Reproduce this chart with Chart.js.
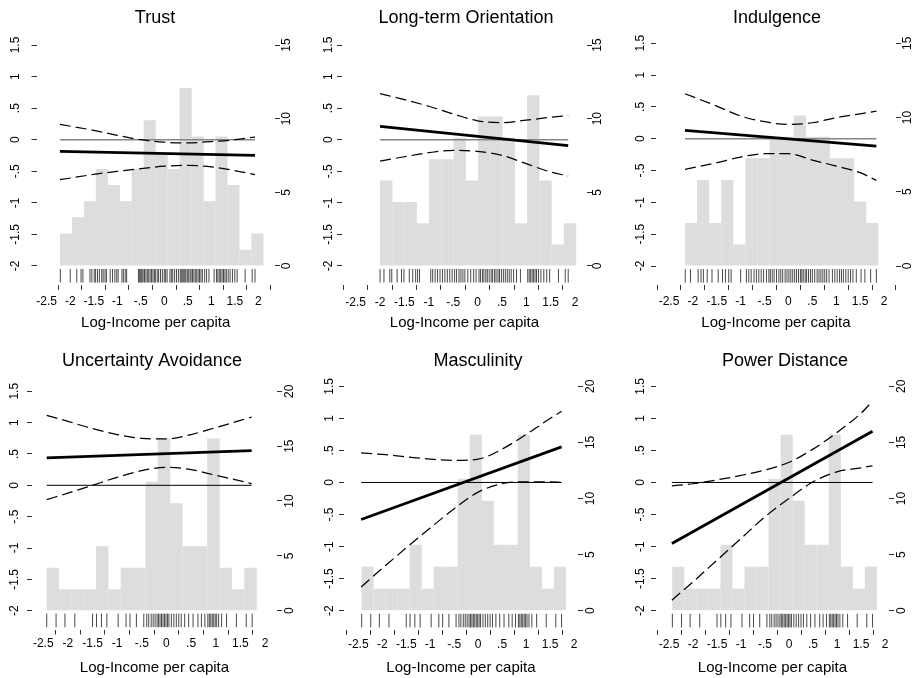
<!DOCTYPE html>
<html>
<head>
<meta charset="utf-8">
<script src="https://cdn.jsdelivr.net/npm/chart.js@4.4.0/dist/chart.umd.min.js"></script>
<style>
html, body { margin: 0; padding: 0; background: #fff; overflow: hidden; }
#figura { position: relative; width: 919px; height: 678px; overflow: hidden; background: #fff; }
#figura canvas { position: absolute; }
</style>
</head>
<body>
<div id="figura"></div>
<script>
// ---------- dados ----------
var titles = ['Trust', 'Long-term Orientation', 'Indulgence', 'Uncertainty Avoidance', 'Masculinity', 'Power Distance'];
var xTitle = 'Log-Income per capita';

var xTicks = [-2.5, -2, -1.5, -1, -0.5, 0, 0.5, 1, 1.5, 2];
var yTicks = [-2, -1.5, -1, -0.5, 0, 0.5, 1, 1.5];
var countTicksTop = [0, 5, 10, 15];
var countTicksBottom = [0, 5, 10, 15, 20];

// Trust
var trustBins = [-2.090, -1.835, -1.581, -1.327, -1.072, -0.818, -0.563, -0.309, -0.055, 0.200, 0.454, 0.709, 0.963, 1.217, 1.472, 1.726, 1.981];
var trustPct = [2.20, 3.30, 4.40, 6.59, 5.49, 4.40, 6.59, 9.89, 7.69, 6.59, 12.09, 8.79, 4.40, 8.79, 5.49, 1.10, 2.20];
var trustRug = [-2.21, -2.00, -1.86, -1.77, -1.73, -1.58, -1.54, -1.49, -1.46, -1.42, -1.38, -1.33, -1.30, -1.26, -1.23,
  -1.15, -1.10, -1.05, -1.01, -0.98, -0.90, -0.87, -0.83, -0.80, -0.55, -0.53, -0.51, -0.49, -0.47, -0.45,
  -0.42, -0.39, -0.36, -0.33, -0.30, -0.27, -0.24, -0.21, -0.19, -0.15, -0.12, -0.08, -0.04, 0.00, 0.03, 0.06,
  0.12, 0.15, 0.18, 0.22, 0.26, 0.30, 0.34, 0.36, 0.38, 0.40, 0.42, 0.44, 0.46, 0.49, 0.52, 0.55, 0.57,
  0.60, 0.63, 0.66, 0.69, 0.72, 0.75, 0.78, 0.81, 0.86, 0.90, 0.95, 1.06, 1.11, 1.14, 1.17, 1.20, 1.23, 1.26, 1.29, 1.32,
  1.36, 1.40, 1.45, 1.50, 1.55, 1.72, 1.87, 1.93];
var trustFitX = [-2.22, 1.93];
var trustFitY = [-0.185, -0.248];
var trustCiX = [-2.22, -1.5, -1.0, -0.5, 0, 0.5, 1.0, 1.5, 1.93];
var trustCiUp = [0.243, 0.148, 0.069, 0.0, -0.04, -0.05, -0.03, 0.0, 0.042];
var trustCiLo = [-0.634, -0.55, -0.50, -0.459, -0.42, -0.407, -0.43, -0.49, -0.554];

// Long-term Orientation
var ltoBins = [-1.874, -1.623, -1.372, -1.120, -0.869, -0.617, -0.366, -0.115, 0.137, 0.388, 0.640, 0.891, 1.143, 1.394, 1.645, 1.897];
var ltoPct = [5.80, 4.35, 4.35, 2.90, 7.25, 7.25, 8.70, 5.80, 10.14, 10.14, 8.70, 2.90, 11.59, 5.80, 1.45, 2.90];
var ltoRug = [-2.00, -1.92, -1.80, -1.76, -1.65, -1.56, -1.51, -1.40, -1.33, -1.27, -1.23, -1.19,
  -0.96, -0.92, -0.87, -0.82, -0.77, -0.72, -0.67, -0.62, -0.57, -0.52, -0.47, -0.43, -0.38, -0.34, -0.30, -0.26,
  -0.20, -0.14, -0.08, -0.03, 0.03, 0.06, 0.10, 0.13, 0.17, 0.20, 0.24, 0.28, 0.31, 0.35, 0.38, 0.42, 0.45, 0.49,
  0.53, 0.57, 0.61, 0.65, 0.69, 0.74, 0.80, 0.88, 1.03, 1.06, 1.09, 1.12, 1.15, 1.18, 1.21, 1.25,
  1.30, 1.36, 1.42, 1.48, 1.66, 1.80, 1.86];
var ltoFitX = [-2.0, 1.86];
var ltoFitY = [0.211, -0.095];
var ltoCiX = [-2.0, -1.5, -1.0, -0.5, 0, 0.5, 1.0, 1.5, 1.86];
var ltoCiUp = [0.729, 0.635, 0.53, 0.41, 0.30, 0.27, 0.31, 0.355, 0.385];
var ltoCiLo = [-0.338, -0.27, -0.206, -0.169, -0.185, -0.248, -0.38, -0.512, -0.575];

// Indulgence
var indBins = [-2.038, -1.786, -1.533, -1.280, -1.027, -0.774, -0.521, -0.268, -0.015, 0.238, 0.490, 0.743, 0.996, 1.249, 1.502, 1.755];
var indPct = [2.90, 5.80, 2.90, 5.80, 1.45, 7.25, 7.25, 8.70, 8.70, 10.14, 8.70, 8.70, 7.25, 7.25, 4.35, 2.90];
var indRug = [-2.16, -2.05, -1.89, -1.83, -1.78, -1.70, -1.60, -1.47, -1.38, -1.32, -1.25, -1.20, -1.00,
  -0.88, -0.83, -0.78, -0.72, -0.67, -0.62, -0.57, -0.52, -0.46, -0.41, -0.38, -0.34, -0.30, -0.25, -0.20, -0.16,
  -0.12, -0.07, -0.03, 0.01, 0.05, 0.09, 0.13, 0.17, 0.21, 0.25, 0.28, 0.31, 0.35, 0.38, 0.42, 0.46, 0.50, 0.55, 0.60,
  0.64, 0.68, 0.72, 0.76, 0.80, 0.85, 0.92, 0.97, 1.02, 1.07, 1.11, 1.15, 1.20, 1.25, 1.30, 1.35,
  1.42, 1.52, 1.60, 1.72, 1.84];
var indFitX = [-2.165, 1.84];
var indFitY = [0.131, -0.115];
var indCiX = [-2.165, -1.5, -1.0, -0.5, 0, 0.5, 1.0, 1.5, 1.84];
var indCiUp = [0.707, 0.513, 0.356, 0.267, 0.225, 0.251, 0.33, 0.39, 0.435];
var indCiLo = [-0.482, -0.377, -0.288, -0.236, -0.236, -0.335, -0.43, -0.534, -0.655];

// linha de baixo: mesma amostra nos tres paineis
var bottomBins = [-2.307, -2.056, -1.805, -1.554, -1.303, -1.053, -0.802, -0.551, -0.300, -0.049, 0.201, 0.452, 0.703, 0.954, 1.205, 1.455, 1.706];
var bottomPct = [3.92, 1.96, 1.96, 1.96, 5.88, 1.96, 3.92, 3.92, 11.76, 15.69, 9.80, 5.88, 5.88, 15.69, 3.92, 1.96, 3.92];
var bottomRug = [-2.43, -2.24, -2.06, -1.86, -1.50, -1.42, -1.32, -1.21, -0.98, -0.82, -0.74, -0.61, -0.46,
  -0.40, -0.36, -0.31, -0.27, -0.23, -0.19, -0.16, -0.13, -0.10, -0.07, -0.04, -0.01, 0.02, 0.05,
  0.10, 0.15, 0.20, 0.25, 0.30, 0.37, 0.45, 0.54, 0.64, 0.71, 0.78,
  0.84, 0.87, 0.90, 0.93, 0.96, 0.99, 1.02, 1.06, 1.12, 1.22, 1.42, 1.62, 1.74];

// Uncertainty Avoidance
var uaFitX = [-2.43, 1.73];
var uaFitY = [0.436, 0.553];
var uaCiX = [-2.43, -2.0, -1.5, -1.0, -0.5, 0, 0.5, 1.0, 1.5, 1.73];
var uaCiUp = [1.117, 1.02, 0.904, 0.81, 0.75, 0.74, 0.81, 0.92, 1.035, 1.09];
var uaCiLo = [-0.229, -0.125, 0.0, 0.128, 0.234, 0.287, 0.25, 0.16, 0.07, 0.027];

// Masculinity
var mascFitX = [-2.44, 1.74];
var mascFitY = [-0.577, 0.556];
var mascCiX = [-2.44, -2.0, -1.5, -1.0, -0.5, 0, 0.5, 1.0, 1.5, 1.74];
var mascCiUp = [0.463, 0.437, 0.40, 0.364, 0.343, 0.364, 0.52, 0.749, 0.998, 1.11];
var mascCiLo = [-1.63, -1.34, -1.02, -0.71, -0.41, -0.15, -0.02, 0.01, 0.01, 0.0];

// Power Distance
var pdFitX = [-2.44, 1.74];
var pdFitY = [-0.952, 0.80];
var pdCiX = [-2.44, -2.0, -1.5, -1.0, -0.5, 0, 0.5, 1.0, 1.5, 1.74];
var pdCiUp = [-0.052, -0.02, 0.04, 0.11, 0.195, 0.315, 0.52, 0.78, 1.08, 1.27];
var pdCiLo = [-1.836, -1.55, -1.212, -0.874, -0.536, -0.25, 0.01, 0.166, 0.229, 0.26];

// ---------- aparencia ----------
var FONTE = '"Liberation Sans", Arial, Helvetica, sans-serif';
var Y_MIN = -2.3;
var Y_MAX = 1.6;
var RUG_Y = -2.155;

function formatoR(v) {
	var s = String(Math.round(v * 10) / 10);
	return s.replace(/^0\./, '.').replace(/^-0\./, '-.');
}

function pontos(xs, ys) {
	return xs.map(function(x, i) { return {x: x, y: ys[i]}; });
}

function fixarTicks(valores) {
	return function(scale) {
		scale.ticks = valores.map(function(v) { return {value: v}; });
	};
}

var paineis = [
	{titulo: titles[0], bins: trustBins, pct: trustPct, rug: trustRug, fitX: trustFitX, fitY: trustFitY,
	 ciX: trustCiX, ciUp: trustCiUp, ciLo: trustCiLo, contagem: countTicksTop,
	 caixa: {left: -15, top: 0, width: 340, height: 332}, eixo: {left: 51.5, right: 50, bottom: 47.1},
	 titPad: {top: 7.2, bottom: 9.9}, xMin: -2.717, xMax: 2.355, pad: {left: 5, right: 0.3, bottom: 4.6},
	 zero: {cor: '#858585', largura: 1.6}},
	{titulo: titles[1], bins: ltoBins, pct: ltoPct, rug: ltoRug, fitX: ltoFitX, fitY: ltoFitY,
	 ciX: ltoCiX, ciUp: ltoCiUp, ciLo: ltoCiLo, contagem: countTicksTop,
	 caixa: {left: 296, top: 0, width: 340, height: 332}, eixo: {left: 46, right: 49, bottom: 47.1},
	 titPad: {top: 7.2, bottom: 9.9}, xMin: -2.781, xMax: 2.246, pad: {left: -1.9, right: -1.1, bottom: 5.6},
	 zero: {cor: '#858585', largura: 1.6}},
	{titulo: titles[2], bins: indBins, pct: indPct, rug: indRug, fitX: indFitX, fitY: indFitY,
	 ciX: indCiX, ciUp: indCiUp, ciLo: indCiLo, contagem: countTicksTop,
	 caixa: {left: 607, top: 0, width: 340, height: 332}, eixo: {left: 49, right: 51, bottom: 46.9},
	 titPad: {top: 7.2, bottom: 8.1}, xMin: -2.772, xMax: 2.251, pad: {left: 0, right: -0.2, bottom: 4.4},
	 zero: {cor: '#858585', largura: 1.6}},
	{titulo: titles[3], bins: bottomBins, pct: bottomPct, rug: bottomRug, fitX: uaFitX, fitY: uaFitY,
	 ciX: uaCiX, ciUp: uaCiUp, ciLo: uaCiLo, contagem: countTicksBottom,
	 caixa: {left: -18, top: 339, width: 340, height: 338}, eixo: {left: 50, right: 45, bottom: 47.5},
	 titPad: {top: 11.5, bottom: 12.9}, xMin: -2.729, xMax: 2.244, pad: {left: 1.6, right: 0.6, bottom: 2.3},
	 zero: {cor: '#000', largura: 1}},
	{titulo: titles[4], bins: bottomBins, pct: bottomPct, rug: bottomRug, fitX: mascFitX, fitY: mascFitY,
	 ciX: mascCiX, ciUp: mascCiUp, ciLo: mascCiLo, contagem: countTicksBottom,
	 caixa: {left: 308, top: 339, width: 340, height: 338}, eixo: {left: 36, right: 70, bottom: 47.1},
	 titPad: {top: 11.5, bottom: 7.8}, xMin: -2.798, xMax: 2.083, pad: {left: -1, right: 1, bottom: 2.6},
	 zero: {cor: '#000', largura: 1}},
	{titulo: titles[5], bins: bottomBins, pct: bottomPct, rug: bottomRug, fitX: pdFitX, fitY: pdFitY,
	 ciX: pdCiX, ciUp: pdCiUp, ciLo: pdCiLo, contagem: countTicksBottom,
	 caixa: {left: 615, top: 339, width: 340, height: 338}, eixo: {left: 41, right: 66, bottom: 47.1},
	 titPad: {top: 11.5, bottom: 7.8}, xMin: -2.771, xMax: 2.083, pad: {left: -0.4, right: 0.8, bottom: 2.6},
	 zero: {cor: '#000', largura: 1}}
];

function criarPainel(p) {
	var canvas = document.createElement('canvas');
	canvas.width = p.caixa.width;
	canvas.height = p.caixa.height;
	canvas.style.left = p.caixa.left + 'px';
	canvas.style.top = p.caixa.top + 'px';
	document.getElementById('figura').appendChild(canvas);

	// eixo da direita (porcentagem) alinhado: 0 em -2 e o topo em 1.5
	var k = p.contagem[p.contagem.length - 1] / (yTicks[yTicks.length - 1] - yTicks[0]);
	var fonteTick = {family: FONTE, size: 12};
	var marca = {drawOnChartArea: false, drawTicks: true, tickLength: 5, color: '#333', lineWidth: 1};
	var xLinha = [p.fitX[0], p.fitX[p.fitX.length - 1]];

	return new Chart(canvas.getContext('2d'), {
		type: 'scatter',
		data: {
			datasets: [{
				type: 'line',
				data: pontos(p.fitX, p.fitY),
				borderColor: '#000',
				borderWidth: 2.8,
				pointRadius: 0,
				order: 1
			}, {
				type: 'line',
				data: pontos(p.ciX, p.ciUp),
				borderColor: '#000',
				borderWidth: 1.25,
				borderDash: [11, 5],
				cubicInterpolationMode: 'monotone',
				pointRadius: 0,
				order: 2
			}, {
				type: 'line',
				data: pontos(p.ciX, p.ciLo),
				borderColor: '#000',
				borderWidth: 1.25,
				borderDash: [11, 5],
				cubicInterpolationMode: 'monotone',
				pointRadius: 0,
				order: 2
			}, {
				type: 'line',
				data: pontos(xLinha, [0, 0]),
				borderColor: p.zero.cor,
				borderWidth: p.zero.largura,
				pointRadius: 0,
				order: 3
			}, {
				type: 'scatter',
				data: p.rug.map(function(v) { return {x: v, y: RUG_Y}; }),
				pointStyle: 'line',
				rotation: 90,
				radius: 6.8,
				borderColor: '#4a4a4a',
				borderWidth: 1,
				order: 5
			}, {
				type: 'bar',
				yAxisID: 'y2',
				data: pontos(p.bins, p.pct),
				backgroundColor: '#dddddd',
				borderWidth: 0,
				barPercentage: 1.01,
				categoryPercentage: 1,
				grouped: false,
				order: 10
			}]
		},
		options: {
			responsive: false,
			animation: false,
			devicePixelRatio: 1,
			events: [],
			layout: {padding: 0},
			plugins: {
				legend: {display: false},
				tooltip: {enabled: false},
				title: {
					display: true,
					text: p.titulo,
					color: '#000',
					font: {family: FONTE, size: 18, weight: 'normal'},
					padding: {top: p.titPad.top, bottom: p.titPad.bottom}
				}
			},
			scales: {
				x: {
					type: 'linear',
					min: p.xMin,
					max: p.xMax,
					offset: false,
					afterBuildTicks: fixarTicks(xTicks),
					afterFit: function(s) { s.height = p.eixo.bottom; },
					border: {display: false},
					grid: marca,
					ticks: {
						autoSkip: false, minRotation: 0, maxRotation: 0,
						padding: p.pad.bottom, color: '#000', font: fonteTick,
						callback: function(v) { return formatoR(v); }
					},
					title: {display: true, text: xTitle, color: '#000', font: {family: FONTE, size: 15}, padding: 0}
				},
				y: {
					type: 'linear',
					position: 'left',
					min: Y_MIN,
					max: Y_MAX,
					afterBuildTicks: fixarTicks(yTicks),
					afterFit: function(s) { s.width = p.eixo.left; },
					border: {display: false},
					grid: marca,
					ticks: {
						autoSkip: false, minRotation: 90, maxRotation: 90, crossAlign: 'center',
						padding: p.pad.left, color: '#000', font: fonteTick,
						callback: function(v) { return formatoR(v); }
					}
				},
				y2: {
					type: 'linear',
					position: 'right',
					min: (Y_MIN - yTicks[0]) * k,
					max: (Y_MAX - yTicks[0]) * k,
					afterBuildTicks: fixarTicks(p.contagem),
					afterFit: function(s) { s.width = p.eixo.right; },
					border: {display: false},
					grid: marca,
					ticks: {
						autoSkip: false, minRotation: 90, maxRotation: 90, crossAlign: 'center',
						padding: p.pad.right, color: '#000', font: fonteTick,
						callback: function(v) { return String(v); }
					}
				}
			}
		}
	});
}

paineis.forEach(function(p) {
	criarPainel(p);
});
</script>
</body>
</html>
